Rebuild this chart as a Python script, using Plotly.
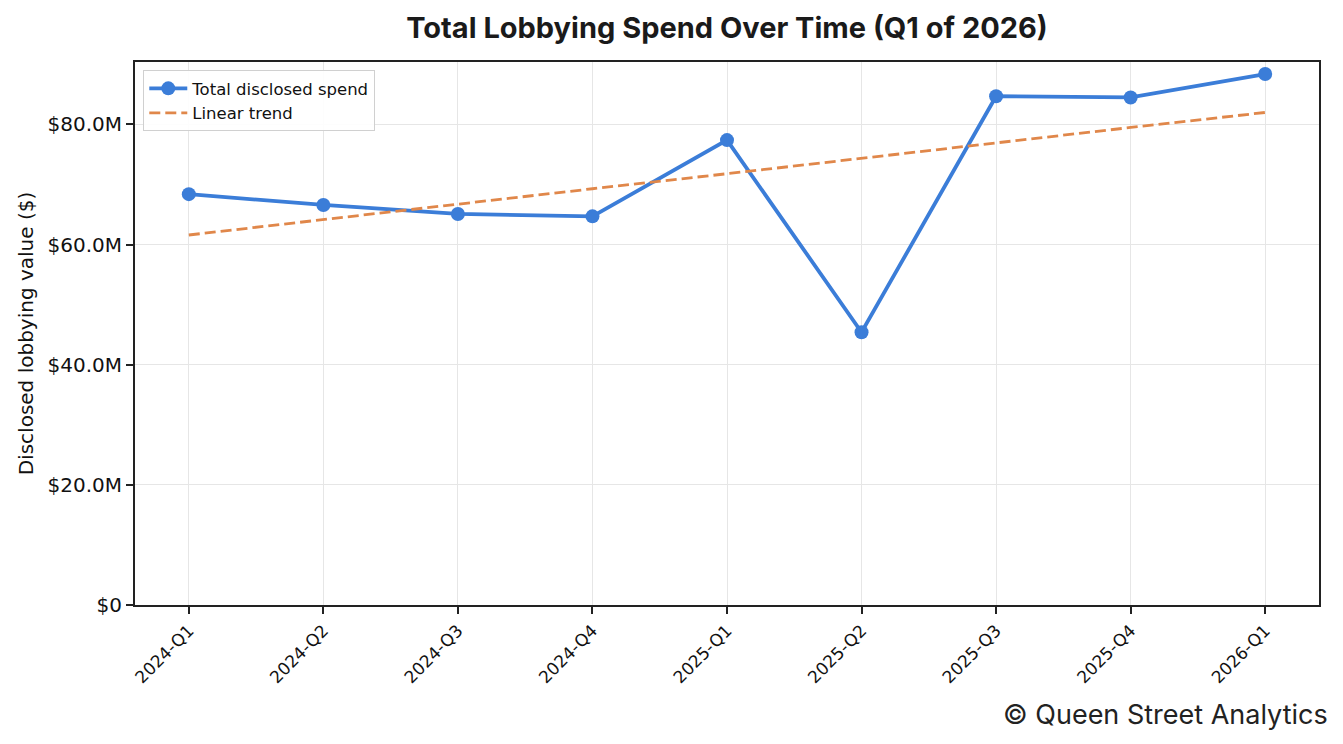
import plotly.graph_objects as go

# --- Data ---
quarters = ["2024-Q1", "2024-Q2", "2024-Q3", "2024-Q4", "2025-Q1",
            "2025-Q2", "2025-Q3", "2025-Q4", "2026-Q1"]
total_spend = [68.4e6, 66.6e6, 65.1e6, 64.7e6, 77.4e6,
               45.4e6, 84.7e6, 84.5e6, 88.4e6]
linear_trend = [61.6e6, 64.2e6, 66.7e6, 69.3e6, 71.8e6,
                74.4e6, 76.9e6, 79.5e6, 82.0e6]
y_tick_vals = [0, 20e6, 40e6, 60e6, 80e6]
y_tick_text = ["$0", "$20.0M", "$40.0M", "$60.0M", "$80.0M"]

BLUE = "#3b7dd8"
ORANGE = "#e0874a"
TICK_FONT = "DejaVu Sans"

# page body has an 8px margin, so the figure is a bit smaller than the window
W, H = 1327, 728
L, R, T, B = 127, 16, 54, 131
plot_w = W - L - R
plot_h = H - T - B

fig = go.Figure()

fig.add_trace(go.Scatter(
    x=quarters, y=total_spend,
    mode="lines+markers",
    name="Total disclosed spend",
    line=dict(color=BLUE, width=3.8),
    marker=dict(color=BLUE, size=14),
))
fig.add_trace(go.Scatter(
    x=quarters, y=linear_trend,
    mode="lines",
    name="Linear trend",
    line=dict(color=ORANGE, width=2.8, dash="11px,5px"),
))

fig.update_layout(
    width=W,
    height=H,
    margin=dict(l=L, r=R, t=T, b=B),
    plot_bgcolor="white",
    paper_bgcolor="white",
    title=dict(
        text="<b>Total Lobbying Spend Over Time (Q1 of 2026)</b>",
        x=719 / W, xanchor="center",
        y=1 - 20 / H, yanchor="middle",
        font=dict(family="Inter", size=29, color="#1a1a1a"),
    ),
    legend=dict(
        x=0.007, y=0.985, xanchor="left", yanchor="top",
        bgcolor="rgba(255,255,255,0.9)",
        bordercolor="#d0d0d0", borderwidth=1,
        font=dict(family=TICK_FONT, size=16.5, color="#111"),
        itemwidth=38,
        tracegroupgap=0,
    ),
    font=dict(family=TICK_FONT, color="#111"),
)

fig.update_xaxes(
    type="category",
    range=[-0.4, 8.4],
    tickangle=-45,
    tickfont=dict(family=TICK_FONT, size=17, color="#111"),
    showgrid=True, gridcolor="#e6e6e6", gridwidth=1,
    showline=True, linecolor="#222", linewidth=2, mirror=True,
    ticks="outside", ticklen=7, tickwidth=1.5, tickcolor="#222",
    zeroline=False,
)
fig.update_yaxes(
    range=[0, 90.4e6],
    tickvals=y_tick_vals,
    ticktext=y_tick_text,
    tickfont=dict(family=TICK_FONT, size=20, color="#111"),
    title=dict(text="Disclosed lobbying value ($)",
               font=dict(family=TICK_FONT, size=20, color="#111"),
               standoff=8),
    showgrid=True, gridcolor="#e6e6e6", gridwidth=1,
    showline=True, linecolor="#222", linewidth=2, mirror=True,
    ticks="outside", ticklen=7, tickwidth=1.5, tickcolor="#222",
    zeroline=False,
)

# footer credit
fig.add_annotation(
    text="© Queen Street Analytics",
    xref="paper", yref="paper",
    x=(1322 - L) / plot_w, y=-(706 - (H - B)) / plot_h,
    xanchor="right", yanchor="middle",
    showarrow=False,
    font=dict(family="Inter", size=27, color="#222"),
)

fig.write_html("out.html")
